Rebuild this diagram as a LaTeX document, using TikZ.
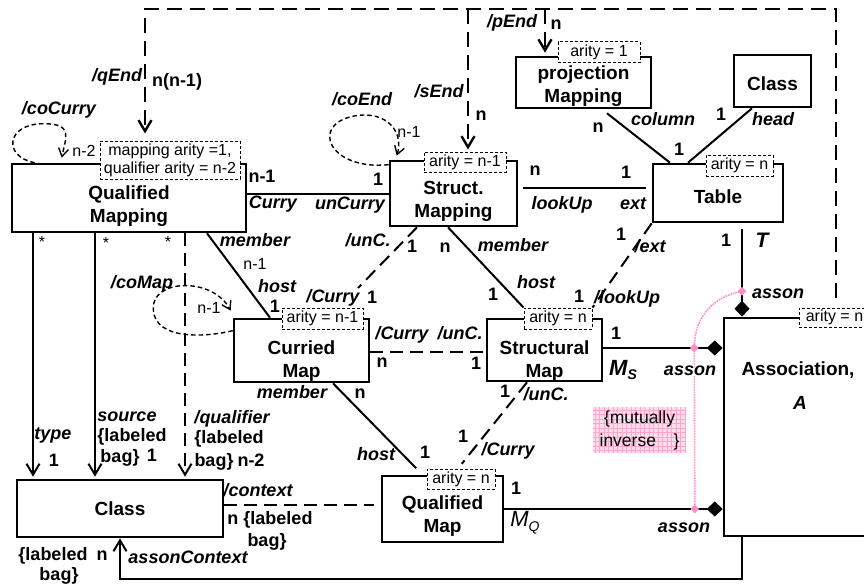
\documentclass[tikz,border=0pt]{standalone}
\usepackage{fontspec}
\setmainfont{Liberation Sans}
\usetikzlibrary{arrows.meta,shapes.geometric,calc}
\definecolor{pinkdot}{HTML}{FF8CC6}
\definecolor{pinkbg}{HTML}{FFDDEC}
\definecolor{pinkgrid}{HTML}{FFA6CF}
\tikzset{
  box/.style={draw, line width=2.6pt, fill=white, inner sep=0pt},
  boxtext/.style={inner sep=0pt, align=center, font=\bfseries\fontsize{19}{23}\selectfont},
  note/.style={draw, line width=1pt, dash pattern=on 3pt off 2pt, fill=white,
    inner sep=0pt, align=center, font=\fontsize{16}{18}\selectfont},
  conn/.style={line width=2pt},
  dconn/.style={line width=2pt, dash pattern=on 13pt off 7pt},
  bigdash/.style={line width=2.4pt, dash pattern=on 15pt off 8pt},
  loopline/.style={line width=1.4pt, dash pattern=on 4.5pt off 3pt},
  role/.style={inner sep=0pt, text height=0.72em, text depth=0pt,
    font=\bfseries\itshape\fontsize{18}{20}\selectfont},
  mult/.style={inner sep=0pt, text height=0.72em, text depth=0pt,
    font=\bfseries\fontsize{18}{20}\selectfont},
  thinlabel/.style={inner sep=0pt, text height=0.72em, text depth=0pt,
    font=\fontsize{16}{18}\selectfont},
  barb/.style={-{Straight Barb[length=11pt,width=13pt]}},
  smallbarb/.style={-{Straight Barb[length=8pt,width=10pt]}},
  agg/.style={-{Diamond[length=16pt,width=15pt]}},
  pinkpath/.style={draw=pinkdot, line width=1.6pt, densely dotted},
  pinkmark/.style={diamond, fill=pinkdot, inner sep=0pt, minimum size=9pt},
}
\begin{document}
\begin{tikzpicture}[x=1pt,y=-1pt]
\useasboundingbox (0,0) rectangle (864,586);

% ---------- classes ----------
\node[box, minimum width=234, minimum height=68] (qm) at (129,198) {};
\node[box, minimum width=127, minimum height=65] (sm) at (453.5,193.5) {};
\node[box, minimum width=135, minimum height=51] (pm) at (583.5,82.5) {};
\node[box, minimum width=77, minimum height=52] (classTop) at (772.5,81) {};
\node[box, minimum width=130, minimum height=58] (table) at (718,193) {};
\node[box, minimum width=135, minimum height=63] (cm) at (301.5,350.5) {};
\node[box, minimum width=115, minimum height=62] (stm) at (544.5,350) {};
\node[box, minimum width=206, minimum height=57] (classBot) at (120,508.5) {};
\node[box, minimum width=121, minimum height=66] (qmap) at (442.5,509) {};
\node[box, minimum width=148, minimum height=218] (assoc) at (798,427) {};

\node[boxtext] (qmText) at ($(qm)+(0,8)$) {Qualified\\Mapping};
\node[boxtext] (smText) at ($(sm)+(0,7.5)$) {Struct.\\Mapping};
\node[boxtext] (pmText) at ($(pm)+(0,4)$) {projection\\Mapping};
\node[boxtext] (classTopText) at ($(classTop)+(0,2.5)$) {Class};
\node[boxtext] (tableText) at ($(table)+(0,3.5)$) {Table};
\node[boxtext] (cmText) at ($(cm)+(0,11)$) {Curried\\Map};
\node[boxtext] (stmText) at ($(stm)+(0,11)$) {Structural\\Map};
\node[boxtext] (classBotText) at (classBot) {Class};
\node[boxtext] (qmapText) at ($(qmap)+(0,7)$) {Qualified\\Map};
\node[boxtext] (assocName) at (798,370) {Association,};
\node[boxtext, font=\bfseries\itshape\fontsize{19}{23}\selectfont] (assocA) at (800,403) {A};

% ---------- arity notes ----------
\node[note, minimum width=140, minimum height=38] (qmNote) at (170,160) {mapping arity =1,\\qualifier arity = n-2};
\node[note, minimum width=82, minimum height=20] (smNote) at (465,162) {arity = n-1};
\node[note, minimum width=82, minimum height=21] (pmNote) at (599,52.5) {arity = 1};
\node[note, minimum width=67, minimum height=21] (tableNote) at (739.5,165.5) {arity = n};
\node[note, minimum width=81, minimum height=21] (cmNote) at (322.5,318.5) {arity = n-1};
\node[note, minimum width=68, minimum height=21] (stmNote) at (558,318.5) {arity = n};
\node[note, minimum width=68, minimum height=20] (qmapNote) at (461,479) {arity = n};
\node[note, minimum width=71, minimum height=19] (assocNote) at (834.5,317.5) {arity = n};

% ---------- derived ends from the association ----------
\coordinate (assocEnd) at (836,298);
\coordinate (topRight) at (836,9);
\coordinate (qEndTip) at ([xshift=-25]qmNote.north);
\coordinate (sEndTip) at ([xshift=3]smNote.north);
\coordinate (pEndTip) at ([xshift=-38.5]pm.north);
\draw[bigdash, barb, shorten >=7pt] (assocEnd) -- (topRight) -| (qEndTip);
\draw[bigdash, barb, shorten >=2pt] (sEndTip |- topRight) -- (sEndTip);
\draw[bigdash, barb, shorten >=3pt] (pEndTip |- topRight) -- (pEndTip);

% ---------- associations ----------
\draw[conn] (sm.west) -- (sm.west -| qm.east);
\coordinate (lookA) at ([yshift=6]sm.east);
\draw[conn, shorten <=5pt, shorten >=6pt] (lookA) -- (lookA -| table.west);
\draw[conn] ([xshift=23.5,yshift=-4]pm.south) -- ([xshift=-48]table.north);
\draw[conn] ([xshift=-20.5]classTop.south) -- ([xshift=-30]table.north);
\coordinate (tTop) at ([xshift=24]table.south);
\draw[conn, agg, shorten <=6pt] (tTop) -- (tTop |- assoc.north);
\coordinate (msA) at ([yshift=2]stm.east);
\draw[conn, agg] (msA) -- (msA -| assoc.west);
\draw[conn, agg] (qmap.east) -- (qmap.east -| assoc.west);
\coordinate (acTop) at ([xshift=-56]assoc.south);
\coordinate (acTurn) at ($(acTop)+(0,42)$);
\draw[conn, barb] (acTop) -- (acTurn) -| (classBot.south);

\coordinate (typeTop) at ([xshift=-96]qm.south);
\coordinate (sourceTop) at ([xshift=-34]qm.south);
\coordinate (qualTop) at ([xshift=56]qm.south);
\draw[conn, barb, shorten >=2pt] (typeTop) -- (typeTop |- classBot.north);
\draw[conn, barb, shorten >=2pt] (sourceTop) -- (sourceTop |- classBot.north);
\draw[dconn, barb, shorten >=2pt] (qualTop) -- (qualTop |- classBot.north);

\draw[conn] ([xshift=78]qm.south) -- ([xshift=-31.5]cm.north);
\coordinate (curryEnd) at (358,288);
\draw[dconn] ([xshift=-36.5]sm.south) -- (curryEnd);
\draw[conn] ([xshift=-5.5]sm.south) -- (stmNote.north west);
\draw[dconn] (table.south west) -- (stmNote.north east);
\coordinate (cmE) at ([yshift=-1.5]cm.east);
\draw[dconn] (cmE) -- (cmE -| stm.west);
\draw[conn, shorten >=9pt] ([xshift=31.5]cm.south) -- ([xshift=-20]qmap.north);
\draw[dconn, shorten >=6pt] ([xshift=-17.5]stm.south) -- ([xshift=-3]qmapNote.north);
\coordinate (ctxA) at ([yshift=3.5]classBot.east);
\draw[dconn, shorten >=7pt] (ctxA) -- (ctxA -| qmap.west);

% ---------- self loops ----------
\draw[loopline, smallbarb] ([xshift=24]qm.north west)
  .. controls +(-32,-6) and +(-38,0) .. ($(qm.north west)+(33,-39)$)
  .. controls +(30,0) and +(4,-20) .. ($(qm.north west)+(51,-5)$);
\draw[loopline, smallbarb] ([yshift=-5]sm.north west)
  .. controls +(-60,6) and +(-47,8) .. ($(sm.north west)+(-33,-44)$)
  .. controls +(33,-5) and +(7,-22) .. ($(sm.north west)+(8,-4)$);
\draw[loopline, smallbarb] ($(cm.north west)+(0,13)$)
  .. controls +(-34,8) and +(-5,35) .. ($(cm.north west)+(-79,-14)$)
  .. controls +(5,-25) and +(-17,-32) .. ($(cm.north west)+(-2,-7)$);

% ---------- mutually inverse ends ----------
\coordinate (invT) at ($(tTop)+(0,68)$);
\coordinate (invS) at ($(msA)+(91,0)$);
\coordinate (invQ) at ($(qmap.east)+(190.5,0)$);
\draw[pinkpath] (invT) .. controls +(-28,5) and +(0,-32) .. (invS) -- (invQ);
\node[pinkmark] (mkT) at (invT) {};
\node[pinkmark] (mkS) at (invS) {};
\node[pinkmark] (mkQ) at (invQ) {};
\node[inner sep=0pt, minimum width=93, minimum height=46, fill=pinkbg, align=center,
  font=\fontsize{17.5}{23}\selectfont,
  path picture={\draw[pinkgrid, line width=0.5pt] (path picture bounding box.south west)
    grid[step=4.5pt] (path picture bounding box.north east);}]
  (inverse) at (639.5,430) {\{mutually\\ inverse\quad\}};

% ---------- labels ----------
\node[role] (lQEnd) at (117,78) {/qEnd};
\node[mult] (lQEndN) at (177,83) {n(n-1)};
\node[role] (lCoCurry) at (59,111) {/coCurry};
\node[thinlabel] (lCoCurryN) at (84,153) {n-2};
\node[mult] (lCurryN) at (262,179) {n-1};
\node[role] (lCurry) at (273,205) {Curry};
\node[role] (lUnCurry) at (350,206) {unCurry};
\node[mult] (lUnCurryN) at (378,182) {1};
\node[role] (lCoEnd) at (362,102) {/coEnd};
\node[thinlabel] (lCoEndN) at (409,134) {n-1};
\node[role] (lSEnd) at (439,94) {/sEnd};
\node[mult] (lSEndN) at (481,117) {n};
\node[role] (lPEnd) at (512,24) {/pEnd};
\node[mult] (lPEndN) at (556,26) {n};
\node[mult] (lLookN) at (535,172) {n};
\node[mult] (lExtN) at (626,175) {1};
\node[role] (lLookUp) at (562,206) {lookUp};
\node[role] (lExt) at (633,206) {ext};
\node[mult] (lColN) at (598,129) {n};
\node[role] (lColumn) at (663,122) {column};
\node[mult] (lColOne) at (679,152) {1};
\node[mult] (lHeadOne) at (721,117) {1};
\node[role] (lHead) at (773,122) {head};
\node[mult] (lTOne) at (726,243) {1};
\node[inner sep=0pt, text height=0.72em, text depth=0pt,
  font=\bfseries\itshape\fontsize{21}{23}\selectfont] (lT) at (762,244) {T};
\node[role] (lAssonT) at (778,295) {asson};

\node[role] (lMember1) at (255,243) {member};
\node[thinlabel] (lMember1N) at (255,266) {n-1};
\node[role] (lHost1) at (277,289) {host};
\node[mult] (lHost1N) at (275,309) {1};
\node[thinlabel] (ls1) at (42,244) {*};
\node[thinlabel] (ls2) at (106,245) {*};
\node[thinlabel] (ls3) at (168,244) {*};
\node[role] (lCoMap) at (142,285) {/coMap};
\node[thinlabel] (lCoMapN) at (209,310) {n-1};

\node[role] (lUnC1) at (368,243) {/unC.};
\node[mult] (lUnC1N) at (412,249) {1};
\node[mult] (lMember2N) at (445,249) {n};
\node[role] (lMember2) at (513,248) {member};
\node[role] (lHost2) at (536,285) {host};
\node[mult] (lHost2N) at (493,297) {1};
\node[mult] (lExt2N) at (621,237) {1};
\node[role] (lExt2) at (650,249) {/ext};
\node[mult] (lLook2N) at (579,299) {1};
\node[role, anchor=west] (lLookUp2) at (594,300) {/lookUp};
\node[role] (lCurry1) at (333,299) {/Curry};
\node[mult] (lCurry1N) at (372,300) {1};

\node[role] (lCurry2) at (402,336) {/Curry};
\node[role] (lUnC2) at (460,336) {/unC.};
\node[mult] (lCurry2N) at (382,364) {n};
\node[mult] (lUnC2N) at (476,366) {1};
\node[mult] (lMsOne) at (616,336) {1};
\node[inner sep=0pt] (lMs) at (623,370)
  {\fontsize{22}{22}\selectfont\bfseries\itshape M\raisebox{-4pt}{\fontsize{14}{14}\selectfont S}};
\node[role, fill=white, inner xsep=1pt] (lAssonS) at (690,372) {asson};

\node[role] (lMember3) at (292,395) {member};
\node[mult] (lMember3N) at (360,395) {n};
\node[role] (lHost3) at (376,457) {host};
\node[mult] (lHost3N) at (425,455) {1};
\node[mult] (lUnC3N) at (505,394) {1};
\node[role] (lUnC3) at (546,397) {/unC.};
\node[mult] (lCurry3N) at (463,439) {1};
\node[role] (lCurry3) at (508,452) {/Curry};
\node[mult] (lMqOne) at (516,491) {1};
\node[inner sep=0pt] (lMq) at (525,523)
  {\fontsize{22}{22}\selectfont\itshape M\raisebox{-5pt}{\fontsize{14}{14}\selectfont Q}};
\node[role] (lAssonQ) at (684,529) {asson};

\node[role] (lType) at (53,436) {type};
\node[mult] (lTypeN) at (54,463) {1};
\node[role] (lSource) at (127,418) {source};
\node[mult] (lSourceBag1) at (132,438) {\{labeled};
\node[mult] (lSourceBag2) at (120,459) {bag\}};
\node[mult] (lSourceN) at (152,458) {1};
\node[role] (lQual) at (232,420) {/qualifier};
\node[mult] (lQualBag1) at (229,440) {\{labeled};
\node[mult] (lQualBag2) at (214,463) {bag\}};
\node[mult] (lQualN) at (251,463) {n-2};
\node[role] (lContext) at (258,493) {/context};
\node[mult] (lContextBag1) at (270,521) {n \{labeled};
\node[mult] (lContextBag2) at (267,543) {bag\}};
\node[role] (lAssonCtx) at (188,560) {assonContext};
\node[mult] (lCtxBag1) at (53,557) {\{labeled};
\node[mult] (lCtxN) at (102,557) {n};
\node[mult] (lCtxBag2) at (59,577) {bag\}};
\end{tikzpicture}
\end{document}
